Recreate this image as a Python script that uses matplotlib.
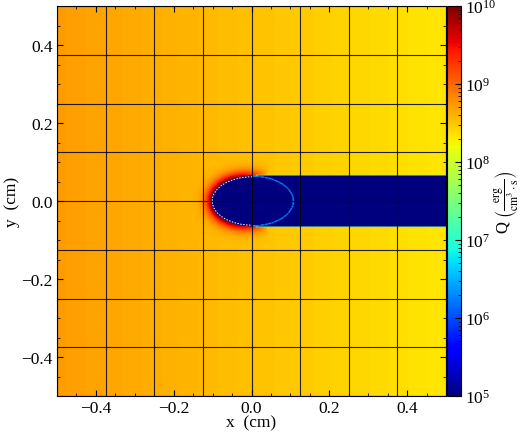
import matplotlib as mpl
mpl.use("Agg")
import matplotlib.pyplot as plt
import numpy as np
from matplotlib.colors import LogNorm
from matplotlib.patches import Arc
from matplotlib.ticker import LogFormatterMathtext, MultipleLocator

# background log10(Q) profile across x
BG_X = [-0.5, 0.0, 0.5]
BG_LOGQ = [8.72, 8.52, 8.32]

# ablation cavity: ellipse + channel to the right
ELL_CENTER = (0.002, 0.0)
ELL_A = 0.106
ELL_B = 0.065
CHANNEL_X0 = 0.0
CHANNEL_HALF = 0.065

CAVITY_LOGQ = 5.0
RIM_PEAK_LOGQ = 10.0
RIM_WIDTH = 0.015
EDGE_LOGQ = 7.55      # thin line along channel walls
RING_LOGQ = 6.3       # thin ring inside channel

GRID_LINES = np.arange(-0.5, 0.5001, 0.125)
CBAR_TICKS = [1e5, 1e6, 1e7, 1e8, 1e9, 1e10]

mpl.rcParams.update({
    "font.family": "Liberation Serif",
    "mathtext.fontset": "stix",
    "xtick.direction": "in",
    "ytick.direction": "in",
})

n = 520
xs = np.linspace(-0.5, 0.5, n)
ys = np.linspace(-0.5, 0.5, n)
X, Y = np.meshgrid(xs, ys)
pix = xs[1] - xs[0]

logq = np.interp(X, BG_X, BG_LOGQ)

# signed distance from ellipse boundary (approximate)
dx = X - ELL_CENTER[0]
dy = Y - ELL_CENTER[1]
F = np.sqrt((dx / ELL_A) ** 2 + (dy / ELL_B) ** 2)
gx = dx / ELL_A**2 / np.maximum(F, 1e-9)
gy = dy / ELL_B**2 / np.maximum(F, 1e-9)
dist = (F - 1) / np.maximum(np.hypot(gx, gy), 1e-9)

# heating rim on the front (left) side of the cavity
xb = ELL_CENTER[0] + dx / np.maximum(F, 1e-9)
front = np.clip((0.035 - xb) / 0.09, 0, 1) ** 0.5
rim = np.exp(-(np.clip(dist, 0, None) / RIM_WIDTH) ** 1.3) * front
rim = np.where(dist >= 0, rim, 0)
logq = logq + rim * (RIM_PEAK_LOGQ - logq)

inside_ell = F <= 1
in_channel = (X >= CHANNEL_X0) & (np.abs(Y) < CHANNEL_HALF)
logq[inside_ell | in_channel] = CAVITY_LOGQ

edge = (X >= CHANNEL_X0 + 0.01) & (np.abs(Y) >= CHANNEL_HALF) & (np.abs(Y) < CHANNEL_HALF + 1.2 * pix)
logq[edge] = EDGE_LOGQ

ring = (dist < 0) & (dist > -1.6 * pix) & (X > ELL_CENTER[0])
logq[ring] = RING_LOGQ

Q = 10.0 ** logq

fig = plt.figure(figsize=(5.2, 4.35), dpi=100)
ax = fig.add_axes([57 / 520, 38 / 435, 389 / 520, 390 / 435])
cax = fig.add_axes([447 / 520, 38 / 435, 14 / 520, 390 / 435])

im = ax.imshow(Q, extent=(-0.5, 0.5, -0.5, 0.5), origin="lower", cmap="jet",
               norm=LogNorm(vmin=1e5, vmax=1e10), interpolation="bilinear", aspect="auto")

# white dashed front of the cavity
ax.add_patch(Arc(ELL_CENTER, 2 * ELL_A - 0.006, 2 * ELL_B - 0.006, theta1=90, theta2=270,
                 color="white", lw=0.7, ls=(0, (1.5, 1.5))))

for g in GRID_LINES:
    ax.axvline(g, color="black", lw=0.8, alpha=0.85)
    ax.axhline(g, color="black", lw=0.8, alpha=0.85)

ax.set_xlim(-0.5, 0.5)
ax.set_ylim(-0.5, 0.5)
ax.xaxis.set_major_locator(MultipleLocator(0.2))
ax.yaxis.set_major_locator(MultipleLocator(0.2))
ax.xaxis.set_minor_locator(MultipleLocator(0.05))
ax.yaxis.set_minor_locator(MultipleLocator(0.05))
ax.tick_params(which="major", length=4, labelsize=12.5, pad=3, top=True, right=True)
ax.tick_params(which="minor", length=2, top=True, right=True)
ax.set_xlabel("x  (cm)", fontsize=12.5, labelpad=-1)
ax.set_ylabel("y  (cm)", fontsize=12.5, labelpad=1)

cb = fig.colorbar(im, cax=cax)
cb.set_ticks(CBAR_TICKS)
cb.ax.yaxis.set_major_formatter(LogFormatterMathtext())
cb.ax.tick_params(which="major", length=4, labelsize=12.5, pad=3, direction="in")
cb.ax.tick_params(which="minor", length=2, direction="in")
cb.set_label(r"Q $\left(\frac{\mathrm{erg}}{\mathrm{cm}^3\cdot\mathrm{s}}\right)$",
             fontsize=12, labelpad=-3)

fig.savefig("out.png", dpi=100)
